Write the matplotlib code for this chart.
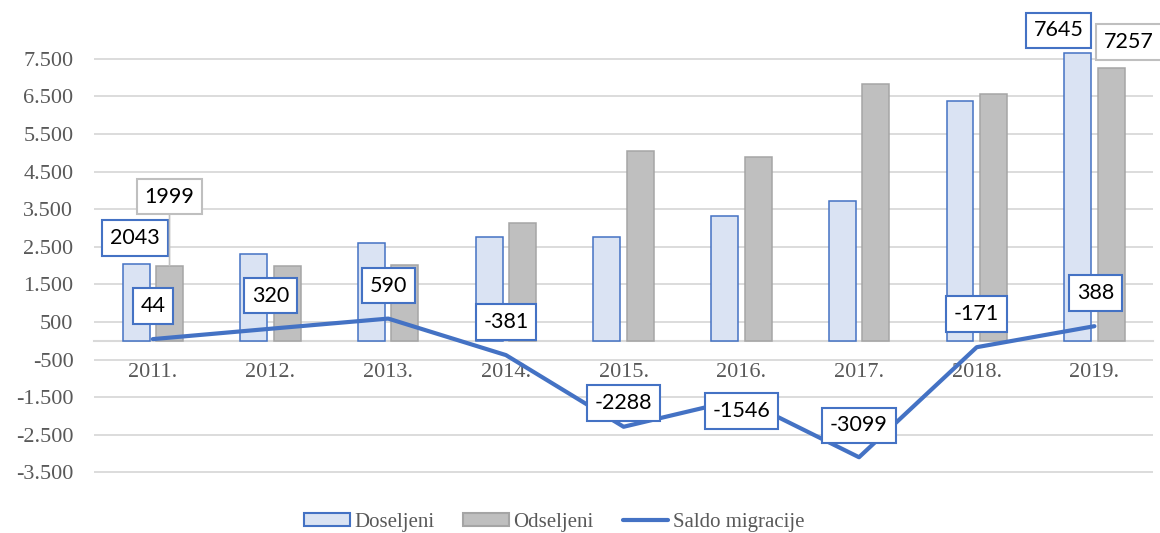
import matplotlib.pyplot as plt
import numpy as np
from matplotlib.patches import Patch
from matplotlib.lines import Line2D

years = ['2011.', '2012.', '2013.', '2014.', '2015.', '2016.', '2017.', '2018.', '2019.']
doseljeni = [2043, 2300, 2610, 2748, 2770, 3330, 3720, 6390, 7645]
odseljeni = [1999, 1980, 2020, 3129, 5058, 4876, 6819, 6561, 7257]
saldo = [44, 320, 590, -381, -2288, -1546, -3099, -171, 388]

blue = '#4472C4'
grid_c = '#D9D9D9'
txt_c = '#595959'
serif = 'Liberation Serif'
label_font = 'Lato'

fig = plt.figure(figsize=(11.6, 5.33), dpi=100)
ax = fig.add_axes([0.081, 0.1096, 0.9132, 0.8505])

x = np.arange(len(years))
w = 0.229
off = 0.142
ax.bar(x - off, doseljeni, w, color='#DAE3F3', edgecolor=blue, linewidth=1.1, zorder=2)
ax.bar(x + off, odseljeni, w, color='#BFBFBF', edgecolor='#A5A5A5', linewidth=1.1, zorder=2)
ax.plot(x, saldo, color=blue, lw=3, solid_capstyle='round', solid_joinstyle='round', zorder=3)

# x axis sits on zero (set before tick labels, it resets the ticks)
for s in ['top', 'left', 'right']:
    ax.spines[s].set_visible(False)
ax.spines['bottom'].set_position(('data', 0))
ax.spines['bottom'].set_color(grid_c)
ax.spines['bottom'].set_linewidth(1.5)
ax.spines['bottom'].set_zorder(1)

ax.set_xlim(-0.5, 8.5)
ax.set_ylim(-3560, 8500)
yt = list(range(-3500, 8000, 1000))
ax.set_yticks(yt)
ax.set_yticklabels([f'{v:,}'.replace(',', '.') for v in yt], family=serif, fontsize=16, color=txt_c)
ax.set_xticks(x)
ax.set_xticklabels(years, family=serif, fontsize=16, color=txt_c)
ax.tick_params(axis='y', length=0, pad=14.8)
ax.tick_params(axis='x', length=0, pad=16)
ax.grid(axis='y', color=grid_c, lw=1.3, zorder=0)
ax.set_axisbelow(True)


def box_label(xv, yv, text, dx, dy, ec, leader=False):
    kw = {}
    if leader:
        kw['arrowprops'] = dict(arrowstyle='-', color=ec, lw=1.2, shrinkA=0, shrinkB=0)
    ax.annotate(text, (xv, yv), xytext=(dx, dy), textcoords='offset pixels',
                ha='center', va='center', family=label_font, fontsize=15.5, color='black',
                bbox=dict(boxstyle='square,pad=0.36', fc='white', ec=ec, lw=1.5),
                zorder=5, **kw)


# saldo labels (pixel offsets)
saldo_off = [(0, 33), (0, 33), (0, 33), (0, 33), (0, 24), (0, -12), (0, 32), (0, 33), (1, 33)]
for i, v in enumerate(saldo):
    box_label(x[i], v, str(v), saldo_off[i][0], saldo_off[i][1], blue)

box_label(x[0] - off, doseljeni[0], str(doseljeni[0]), -1, 26, blue)
box_label(x[0] + off, odseljeni[0], str(odseljeni[0]), 0, 69, '#BFBFBF', leader=True)
box_label(x[8] - off, doseljeni[8], str(doseljeni[8]), -19, 23, blue)
box_label(x[8] + off, odseljeni[8], str(odseljeni[8]), 18, 26, '#BFBFBF')

handles = [
    Patch(facecolor='#DAE3F3', edgecolor=blue, linewidth=1.5, label='Doseljeni'),
    Patch(facecolor='#BFBFBF', edgecolor='#A5A5A5', linewidth=1.5, label='Odseljeni'),
    Line2D([], [], color=blue, lw=3, solid_capstyle='round', label='Saldo migracije'),
]
fig.legend(handles=handles, loc='center', bbox_to_anchor=(554 / 1160, 0.0206), ncol=3,
           frameon=False, prop={'family': serif, 'size': 15}, labelcolor=txt_c,
           handlelength=2.2, handleheight=0.6, handletextpad=0.2, columnspacing=1.4,
           borderpad=0, borderaxespad=0)

fig.savefig('out.png', dpi=100)
